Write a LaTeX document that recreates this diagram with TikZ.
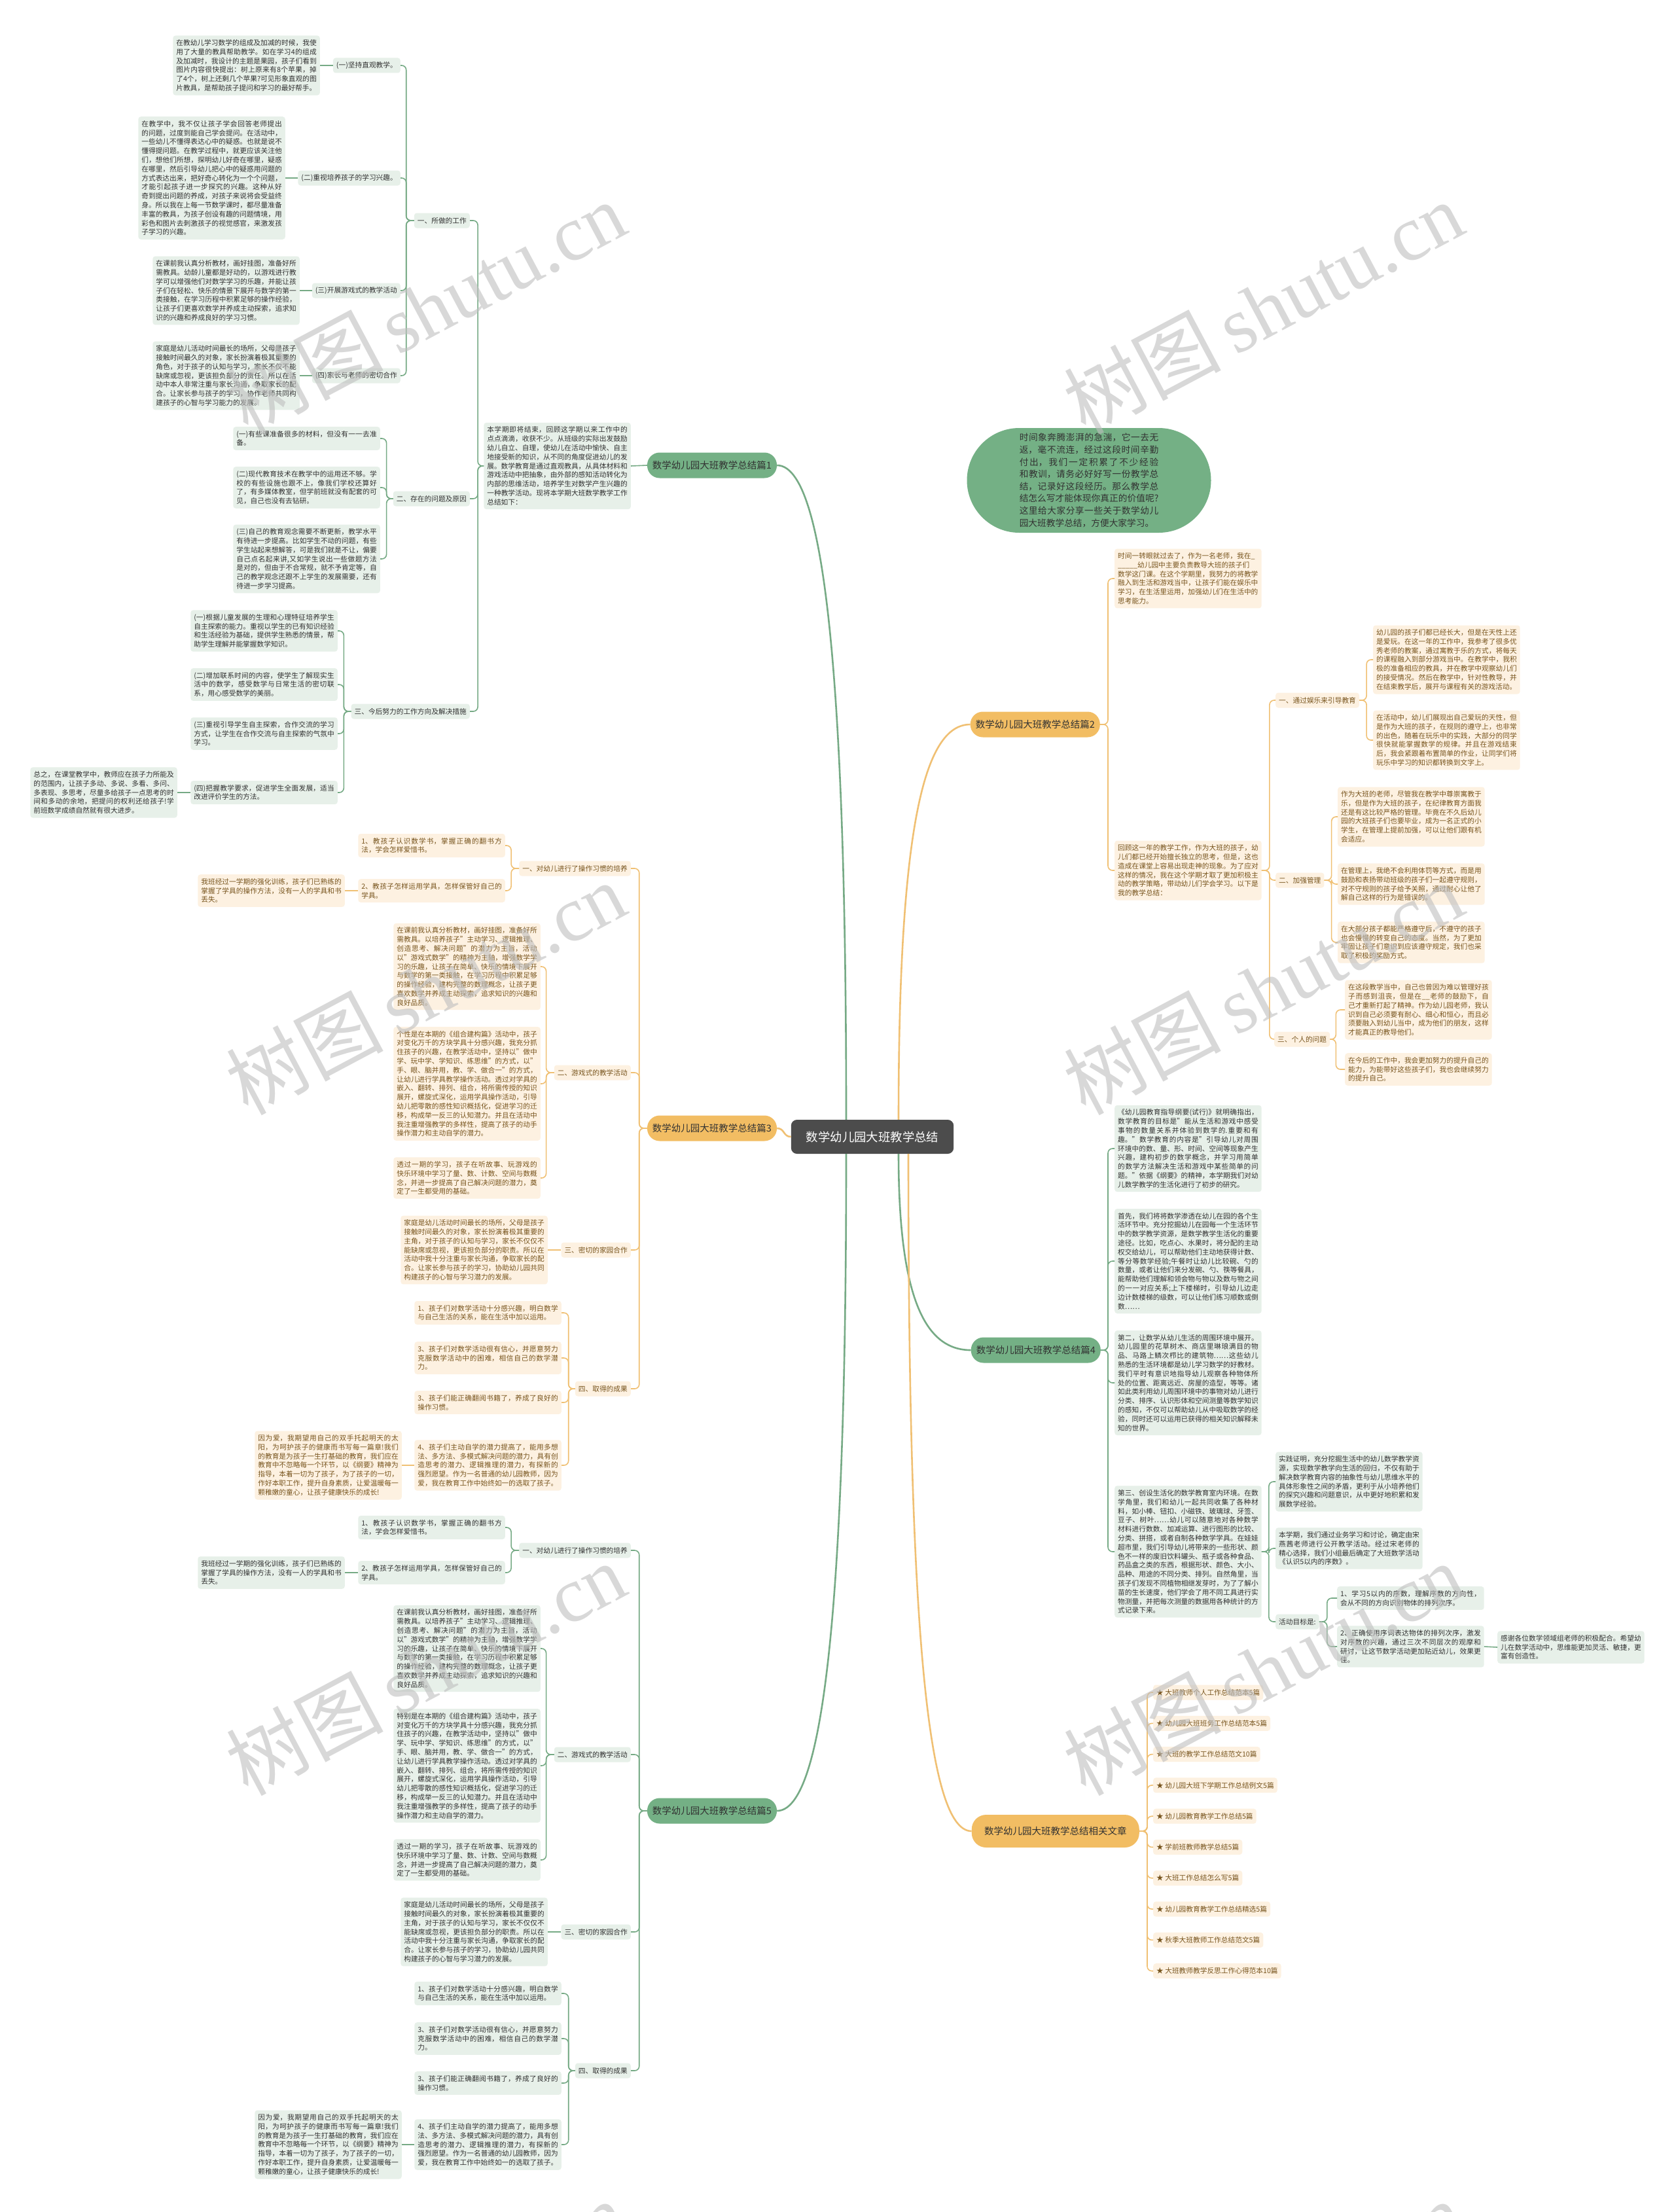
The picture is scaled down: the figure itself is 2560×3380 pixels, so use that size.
\documentclass[tikz,border=0pt]{standalone}
\usepackage{fontspec}
\setmainfont{Noto Sans CJK SC}
\newfontfamily\markfont{Liberation Serif}
\XeTeXlinebreaklocale "zh"
\XeTeXlinebreakskip=0pt plus 1pt
\tolerance=5000
\hbadness=10000
\definecolor{gline}{RGB}{118,170,133}
\definecolor{gleaf}{RGB}{231,240,233}
\definecolor{gmain}{RGB}{116,176,133}
\definecolor{gink}{RGB}{50,50,50}
\definecolor{oline}{RGB}{240,192,115}
\definecolor{oleaf}{RGB}{253,241,225}
\definecolor{omain}{RGB}{242,189,99}
\definecolor{oink}{RGB}{120,85,30}
\definecolor{hubc}{RGB}{76,76,76}
\definecolor{markc}{RGB}{190,190,190}
\newcommand\leaffont{\fontsize{10.7}{13.8}\selectfont}

\begin{document}
\begin{tikzpicture}[x=1pt, y=-1pt,
    gtxt/.style={fill=gleaf, text=gink, rounded corners=4pt, inner xsep=5pt, inner ysep=6pt, text width=214.5pt, align=justify, font=\leaffont},
    otxt/.style={gtxt, fill=oleaf, text=oink},
    gtag/.style={fill=gleaf, text=gink, rounded corners=4pt, inner xsep=5pt, inner ysep=0pt, minimum height=23pt, font=\leaffont},
    otag/.style={gtag, fill=oleaf, text=oink},
    gbranch/.style={fill=gmain, text=gink, rounded corners=19pt, minimum height=39pt, inner xsep=8pt, font=\fontsize{14.5}{18}\selectfont},
    obranch/.style={gbranch, fill=omain},
    hub/.style={fill=hubc, text=white, rounded corners=9pt, minimum height=52pt, inner xsep=23pt, font=\fontsize{18.4}{22}\selectfont},
    intro/.style={fill=gmain, text=gink, rounded corners=80pt, minimum width=373pt, minimum height=160pt, text width=212.5pt, align=justify, font=\fontsize{13.7}{18.6}\selectfont},
    glink/.style={draw=gline, line width=1.6pt, rounded corners=7pt},
    olink/.style={glink, draw=oline},
    gtrunk/.style={draw=gline, line width=2.6pt},
    otrunk/.style={gtrunk, draw=oline},
    wmark/.style={text=markc, text opacity=0.6, rotate=28, font=\fontsize{120}{120}\selectfont}]

    \fill[white] (0,0) rectangle (2560,3380);
    \useasboundingbox (0,0) rectangle (2560,3380);

    % Centre and intro
    \node[hub] (hub) at (1333,1737) {数学幼儿园大班教学总结};
    \node[intro] (intro) at (1664,734) {时间象奔腾澎湃的急湍，它一去无返，毫不流连，经过这段时间辛勤付出，我们一定积累了不少经验和教训，请务必好好写一份教学总结，记录好这段经历。那么教学总结怎么写才能体现你真正的价值呢?这里给大家分享一些关于数学幼儿园大班教学总结，方便大家学习。};

    % Main branches
    \node[gbranch] (b1) at (1088,711) {数学幼儿园大班教学总结篇1};
    \node[obranch, anchor=east] (b2) at (1681,1107) {数学幼儿园大班教学总结篇2};
    \node[obranch] (b3) at (1088,1724) {数学幼儿园大班教学总结篇3};
    \node[gbranch, anchor=east] (b4) at (1682,2063) {数学幼儿园大班教学总结篇4};
    \node[gbranch] (b5) at (1088,2767) {数学幼儿园大班教学总结篇5};
    \node[obranch, anchor=east, minimum height=50pt, minimum width=256pt, rounded corners=22pt] (b6) at (1741,2798) {数学幼儿园大班教学总结相关文章};

    \draw[gtrunk] ([xshift=-40pt]hub.north) .. controls +(0,-700) and +(70,0) .. (b1.east);
    \draw[otrunk] ([xshift=40pt]hub.north) .. controls +(0,-450) and +(-70,0) .. (b2.west);
    \draw[otrunk] (hub.west) .. controls +(-12,0) and +(12,0) .. (b3.east);
    \draw[gtrunk] ([xshift=40pt]hub.south) .. controls +(0,220) and +(-70,0) .. (b4.west);
    \draw[gtrunk] ([xshift=-40pt]hub.south) .. controls +(0,700) and +(70,0) .. (b5.east);
    \draw[otrunk] ([xshift=55pt]hub.south) .. controls +(0,700) and +(-70,0) .. (b6.west);

    % Branch 1
    \node[gtxt, anchor=east] (b1s) at (964,712) {本学期即将结束，回顾这学期以来工作中的点点滴滴，收获不少。从班级的实际出发鼓励幼儿自立、自理，使幼儿在活动中愉快、自主地接受新的知识，从不同的角度促进幼儿的发展。数学教育是通过直观教具，从具体材料和游戏活动中把抽象，由外部的感知活动转化为内部的思维活动，培养学生对数学产生兴趣的一种教学活动。现将本学期大班数学教学工作总结如下：};
    \node[gtag, anchor=east] (b1a) at (718,337) {一、所做的工作};
    \node[gtag, anchor=east] (b1b) at (718,762) {二、存在的问题及原因};
    \node[gtag, anchor=east] (b1c) at (718,1087) {三、今后努力的工作方向及解决措施};
    \draw[glink] (b1.west) -- (b1s.east);
    \draw[glink] (b1s.west) -- ++(-9,0) |- (b1a.east);
    \draw[glink] (b1s.west) -- ++(-9,0) |- (b1b.east);
    \draw[glink] (b1s.west) -- ++(-9,0) |- (b1c.east);

    \node[gtag, anchor=east] (b1a1) at (612,100) {(一)坚持直观教学。};
    \node[gtag, anchor=east] (b1a2) at (612,272) {(二)重视培养孩子的学习兴趣。};
    \node[gtag, anchor=east] (b1a3) at (612,444) {(三)开展游戏式的教学活动};
    \node[gtag, anchor=east] (b1a4) at (612,574) {(四)家长与老师的密切合作};
    \foreach \k in {1,...,4} \draw[glink] (b1a.west) -- ++(-12,0) |- (b1a\k.east);
    \node[gtxt, anchor=east] (b1a1t) at (489,100) {在教幼儿学习数学的组成及加减的时候，我使用了大量的教具帮助教学。如在学习4的组成及加减时，我设计的主题是果园，孩子们看到图片内容很快提出：树上原来有8个苹果，掉了4个，树上还剩几个苹果?可见形象直观的图片教具，是帮助孩子提问和学习的最好帮手。};
    \node[gtxt, anchor=east] (b1a2t) at (436,272) {在教学中，我不仅让孩子学会回答老师提出的问题，过度到能自己学会提问。在活动中，一些幼儿不懂得表达心中的疑惑。也就是说不懂得提问题。在教学过程中，就更应该关注他们，想他们所想，探明幼儿好奇在哪里，疑惑在哪里，然后引导幼儿把心中的疑惑用问题的方式表达出来，把好奇心转化为一个个问题，才能引起孩子进一步探究的兴趣。这种从好奇到提出问题的养成，对孩子来说将会受益终身。所以我在上每一节数学课时，都尽量准备丰富的教具，为孩子创设有趣的问题情境，用彩色和图片去刺激孩子的视觉感官，来激发孩子学习的兴趣。};
    \node[gtxt, anchor=east] (b1a3t) at (458,444) {在课前我认真分析教材，画好挂图，准备好所需教具。幼龄儿童都是好动的，以游戏进行教学可以增强他们对数学学习的乐趣，并能让孩子们在轻松、快乐的情景下展开与数学的第一类接触，在学习历程中积累足够的操作经验，让孩子们更喜欢数学并养成主动探索，追求知识的兴趣和养成良好的学习习惯。};
    \node[gtxt, anchor=east] (b1a4t) at (458,574) {家庭是幼儿活动时间最长的场所，父母是孩子接触时间最久的对象，家长扮演着极其重要的角色，对于孩子的认知与学习，家长不仅不能缺席或忽视，更该担负部分的责任。所以在活动中本人非常注重与家长沟通，争取家长的配合。让家长参与孩子的学习，协作老师共同构建孩子的心智与学习能力的发展。};
    \foreach \k in {1,...,4} \draw[glink] (b1a\k.west) -- (b1a\k t.east);

    \node[gtxt, anchor=east] (b1b1) at (581,670) {(一)有些课准备很多的材料，但没有一一去准备。};
    \node[gtxt, anchor=east] (b1b2) at (581,745) {(二)现代教育技术在教学中的运用还不够。学校的有些设施也跟不上，像我们学校还算好了，有多媒体教室，但学前班就没有配套的可见，自己也没有去钻研。};
    \node[gtxt, anchor=east] (b1b3) at (581,854) {(三)自己的教育观念需要不断更新，教学水平有待进一步提高。比如学生不动的问题，有些学生站起来想解答，可是我们就是不让，偏要自己点名起来讲,又如学生说出一些做题方法是对的，但由于不合常规，就不予肯定等，自己的教学观念还跟不上学生的发展需要，还有待进一步学习提高。};
    \foreach \k in {1,2,3} \draw[glink] (b1b.west) -- ++(-10,0) |- (b1b\k.east);

    \node[gtxt, anchor=east] (b1c1) at (516,964) {(一)根据儿童发展的生理和心理特征培养学生自主探索的能力。重视以学生的已有知识经验和生活经验为基础，提供学生熟悉的情景，帮助学生理解并能掌握数学知识。};
    \node[gtxt, anchor=east] (b1c2) at (516,1046) {(二)增加联系时间的内容，使学生了解现实生活中的数学，感受数学与日常生活的密切联系，用心感受数学的美丽。};
    \node[gtxt, anchor=east] (b1c3) at (516,1121) {(三)重视引导学生自主探索，合作交流的学习方式，让学生在合作交流与自主探索的气氛中学习。};
    \node[gtxt, anchor=east] (b1c4) at (516,1211) {(四)把握教学要求，促进学生全面发展，适当改进评价学生的方法。};
    \foreach \k in {1,...,4} \draw[glink] (b1c.west) -- ++(-11,0) |- (b1c\k.east);
    \node[gtxt, anchor=east] (b1c4t) at (271,1211) {总之，在课堂教学中，教师应在孩子力所能及的范围内，让孩子多动、多说、多看、多问、多表现、多思考，尽量多给孩子一点思考的时间和多动的余地，把提问的权利还给孩子!学前班数学成绩自然就有很大进步。};
    \draw[glink] (b1c4.west) -- (b1c4t.east);

    % Branch 3
    \node[otag, anchor=east] (b3a) at (964,1327) {一、对幼儿进行了操作习惯的培养};
    \node[otag, anchor=east] (b3b) at (964,1639) {二、游戏式的教学活动};
    \node[otag, anchor=east] (b3c) at (964,1910) {三、密切的家园合作};
    \node[otag, anchor=east] (b3d) at (964,2122) {四、取得的成果};
    \foreach \k in {a,b,c,d} \draw[olink] (b3.west) -- ++(-12,0) |- (b3\k.east);
    \node[otxt, anchor=east] (b3a1) at (772,1292) {1、教孩子认识数学书，掌握正确的翻书方法，学会怎样爱惜书。};
    \node[otxt, anchor=east] (b3a2) at (772,1361) {2、教孩子怎样运用学具，怎样保管好自己的学具。};
    \node[otxt, anchor=east] (b3a2t) at (527,1361) {我班经过一学期的强化训练，孩子们已熟练的掌握了学具的操作方法，没有一人的学具和书丢失。};
    \draw[olink] (b3a.west) -- ++(-12,0) |- (b3a1.east);
    \draw[olink] (b3a.west) -- ++(-12,0) |- (b3a2.east);
    \draw[olink] (b3a2.west) -- (b3a2t.east);
    \node[otxt, anchor=east] (b3b1) at (826,1477) {在课前我认真分析教材，画好挂图，准备好所需教具。以培养孩子"主动学习、逻辑推理、创造思考、解决问题"的潜力为主旨，活动以"游戏式数学"的精神为主轴，增强数学学习的乐趣，让孩子在简单、快乐的情境下展开与数学的第一类接触，在学习历程中积累足够的操作经验，建构完整的数理概念，让孩子更喜欢数学并养成主动探索，追求知识的兴趣和良好品质。};
    \node[otxt, anchor=east] (b3b2) at (826,1656) {个性是在本期的《组合建构篇》活动中，孩子对变化万千的方块学具十分感兴趣，我充分抓住孩子的兴趣，在教学活动中，坚持以"做中学、玩中学、学知识、练思维"的方式，以"手、眼、脑并用，教、学、做合一"的方式，让幼儿进行学具教学操作活动。透过对学具的嵌入、翻转、排列、组合，将所需传授的知识展开，螺旋式深化，运用学具操作活动，引导幼儿把零散的感性知识概括化，促进学习的迁移，构成举一反三的认知潜力。并且在活动中我注重增强教学的多样性，提高了孩子的动手操作潜力和主动自学的潜力。};
    \node[otxt, anchor=east] (b3b3) at (826,1800) {透过一期的学习，孩子在听故事、玩游戏的快乐环境中学习了量、数、计数、空间与数概念，并进一步提高了自己解决问题的潜力，奠定了一生都受用的基础。};
    \foreach \k in {1,2,3} \draw[olink] (b3b.west) -- ++(-12,0) |- (b3b\k.east);
    \node[otxt, anchor=east] (b3c1) at (837,1910) {家庭是幼儿活动时间最长的场所，父母是孩子接触时间最久的对象，家长扮演着极其重要的主角，对于孩子的认知与学习，家长不仅仅不能缺席或忽视，更该担负部分的职责。所以在活动中我十分注重与家长沟通，争取家长的配合。让家长参与孩子的学习，协助幼儿园共同构建孩子的心智与学习潜力的发展。};
    \draw[olink] (b3c.west) -- (b3c1.east);
    \node[otxt, anchor=east] (b3d1) at (858,2006) {1、孩子们对数学活动十分感兴趣，明白数学与自己生活的关系，能在生活中加以运用。};
    \node[otxt, anchor=east] (b3d2) at (858,2075) {3、孩子们对数学活动很有信心，并愿意努力克服数学活动中的困难，相信自己的数学潜力。};
    \node[otxt, anchor=east] (b3d3) at (858,2143) {3、孩子们能正确翻阅书籍了，养成了良好的操作习惯。};
    \node[otxt, anchor=east] (b3d4) at (858,2239) {4、孩子们主动自学的潜力提高了，能用多想法、多方法、多模式解决问题的潜力，具有创造思考的潜力、逻辑推理的潜力，有探新的强烈愿望。作为一名普通的幼儿园教师，因为爱，我在教育工作中始终如一的选取了孩子。};
    \foreach \k in {1,...,4} \draw[olink] (b3d.west) -- ++(-10,0) |- (b3d\k.east);
    \node[otxt, anchor=east] (b3d4t) at (614,2239) {因为爱，我期望用自己的双手托起明天的太阳，为呵护孩子的健康而书写每一篇章!我们的教育是为孩子一生打基础的教育，我们应在教育中不忽略每一个环节，以《纲要》精神为指导，本着一切为了孩子，为了孩子的一切，作好本职工作，提升自身素质，让爱温暖每一颗稚嫩的童心，让孩子健康快乐的成长!};
    \draw[olink] (b3d4.west) -- (b3d4t.east);

    % Branch 5
    \node[gtag, anchor=east] (b5a) at (964,2369) {一、对幼儿进行了操作习惯的培养};
    \node[gtag, anchor=east] (b5b) at (964,2681) {二、游戏式的教学活动};
    \node[gtag, anchor=east] (b5c) at (964,2952) {三、密切的家园合作};
    \node[gtag, anchor=east] (b5d) at (964,3164) {四、取得的成果};
    \foreach \k in {a,b,c,d} \draw[glink] (b5.west) -- ++(-12,0) |- (b5\k.east);
    \node[gtxt, anchor=east] (b5a1) at (772,2334) {1、教孩子认识数学书，掌握正确的翻书方法，学会怎样爱惜书。};
    \node[gtxt, anchor=east] (b5a2) at (772,2403) {2、教孩子怎样运用学具，怎样保管好自己的学具。};
    \node[gtxt, anchor=east] (b5a2t) at (527,2403) {我班经过一学期的强化训练，孩子们已熟练的掌握了学具的操作方法，没有一人的学具和书丢失。};
    \draw[glink] (b5a.west) -- ++(-12,0) |- (b5a1.east);
    \draw[glink] (b5a.west) -- ++(-12,0) |- (b5a2.east);
    \draw[glink] (b5a2.west) -- (b5a2t.east);
    \node[gtxt, anchor=east] (b5b1) at (826,2519) {在课前我认真分析教材，画好挂图，准备好所需教具。以培养孩子"主动学习、逻辑推理、创造思考、解决问题"的潜力为主旨，活动以"游戏式数学"的精神为主轴，增强数学学习的乐趣，让孩子在简单、快乐的情境下展开与数学的第一类接触，在学习历程中积累足够的操作经验，建构完整的数理概念，让孩子更喜欢数学并养成主动探索，追求知识的兴趣和良好品质。};
    \node[gtxt, anchor=east] (b5b2) at (826,2698) {特别是在本期的《组合建构篇》活动中，孩子对变化万千的方块学具十分感兴趣，我充分抓住孩子的兴趣，在教学活动中，坚持以"做中学、玩中学、学知识、练思维"的方式，以"手、眼、脑并用，教、学、做合一"的方式，让幼儿进行学具教学操作活动。透过对学具的嵌入、翻转、排列、组合，将所需传授的知识展开，螺旋式深化，运用学具操作活动，引导幼儿把零散的感性知识概括化，促进学习的迁移，构成举一反三的认知潜力。并且在活动中我注重增强教学的多样性，提高了孩子的动手操作潜力和主动自学的潜力。};
    \node[gtxt, anchor=east] (b5b3) at (826,2842) {透过一期的学习，孩子在听故事、玩游戏的快乐环境中学习了量、数、计数、空间与数概念，并进一步提高了自己解决问题的潜力，奠定了一生都受用的基础。};
    \foreach \k in {1,2,3} \draw[glink] (b5b.west) -- ++(-12,0) |- (b5b\k.east);
    \node[gtxt, anchor=east] (b5c1) at (837,2952) {家庭是幼儿活动时间最长的场所，父母是孩子接触时间最久的对象，家长扮演着极其重要的主角，对于孩子的认知与学习，家长不仅仅不能缺席或忽视，更该担负部分的职责。所以在活动中我十分注重与家长沟通，争取家长的配合。让家长参与孩子的学习，协助幼儿园共同构建孩子的心智与学习潜力的发展。};
    \draw[glink] (b5c.west) -- (b5c1.east);
    \node[gtxt, anchor=east] (b5d1) at (858,3046) {1、孩子们对数学活动十分感兴趣，明白数学与自己生活的关系，能在生活中加以运用。};
    \node[gtxt, anchor=east] (b5d2) at (858,3115) {3、孩子们对数学活动很有信心，并愿意努力克服数学活动中的困难，相信自己的数学潜力。};
    \node[gtxt, anchor=east] (b5d3) at (858,3183) {3、孩子们能正确翻阅书籍了，养成了良好的操作习惯。};
    \node[gtxt, anchor=east] (b5d4) at (858,3277) {4、孩子们主动自学的潜力提高了，能用多想法、多方法、多模式解决问题的潜力，具有创造思考的潜力、逻辑推理的潜力，有探新的强烈愿望。作为一名普通的幼儿园教师，因为爱，我在教育工作中始终如一的选取了孩子。};
    \foreach \k in {1,...,4} \draw[glink] (b5d.west) -- ++(-10,0) |- (b5d\k.east);
    \node[gtxt, anchor=east] (b5d4t) at (614,3277) {因为爱，我期望用自己的双手托起明天的太阳，为呵护孩子的健康而书写每一篇章!我们的教育是为孩子一生打基础的教育，我们应在教育中不忽略每一个环节，以《纲要》精神为指导，本着一切为了孩子，为了孩子的一切，作好本职工作，提升自身素质，让爱温暖每一颗稚嫩的童心，让孩子健康快乐的成长!};
    \draw[glink] (b5d4.west) -- (b5d4t.east);

    % Branch 2
    \node[otxt, anchor=west, align=left] (b2i) at (1703,884) {时间一转眼就过去了，作为一名老师，我在\_\\\_\_\_\_\_幼儿园中主要负责教导大班的孩子们\\数学这门课。在这个学期里，我努力的将教学融入到生活和游戏当中，让孩子们能在娱乐中学习，在生活里运用，加强幼儿们在生活中的思考能力。};
    \node[otxt, anchor=west] (b2r) at (1703,1330) {回顾这一年的教学工作，作为大班的孩子，幼儿们都已经开始擅长独立的思考，但是，这也造成在课堂上容易出现走神的现象。为了应对这样的情况，我在这个学期才取了更加积极主动的教学策略，带动幼儿们学会学习。以下是我的教学总结：};
    \draw[olink] (b2.east) -- ++(12,0) |- (b2i.west);
    \draw[olink] (b2.east) -- ++(12,0) |- (b2r.west);
    \node[otag, anchor=west] (b2r1) at (1949,1070) {一、通过娱乐来引导教育};
    \node[otag, anchor=west] (b2r2) at (1949,1345) {二、加强管理};
    \node[otag, anchor=west] (b2r3) at (1947,1588) {三、个人的问题};
    \foreach \k in {1,2,3} \draw[olink] (b2r.east) -- ++(12,0) |- (b2r\k.west);
    \node[otxt, anchor=west] (b2r1a) at (2098,1008) {幼儿园的孩子们都已经长大，但是在天性上还是爱玩。在这一年的工作中，我参考了很多优秀老师的教案，通过寓教于乐的方式，将每天的课程融入到部分游戏当中。在教学中，我积极的准备相应的教具，并在教学中观察幼儿们的接受情况。然后在教学中，针对性教导，并在结束教学后，展开与课程有关的游戏活动。};
    \node[otxt, anchor=west] (b2r1b) at (2098,1131) {在活动中，幼儿们展现出自己爱玩的天性，但是作为大班的孩子，在规则的遵守上，也非常的出色，随着在玩乐中的实践，大部分的同学很快就能掌握数学的规律。并且在游戏结束后，我会紧跟着布置简单的作业，让同学们将玩乐中学习的知识都转换到文字上。};
    \foreach \k in {a,b} \draw[olink] (b2r1.east) -- ++(11,0) |- (b2r1\k.west);
    \node[otxt, anchor=west] (b2r2a) at (2044,1248) {作为大班的老师，尽管我在教学中尊崇寓教于乐，但是作为大班的孩子，在纪律教育方面我还是有这比较严格的管理。毕竟在不久后幼儿园的大班孩子们也要毕业，成为一名正式的小学生，在管理上提前加强，可以让他们跟有机会适应。};
    \node[otxt, anchor=west] (b2r2b) at (2044,1351) {在管理上，我绝不会利用体罚等方式，而是用鼓励和表扬带动班级的孩子们一起遵守规则，对不守规则的孩子给予关照，通过耐心让他了解自己这样的行为是错误的。};
    \node[otxt, anchor=west] (b2r2c) at (2044,1440) {在大部分孩子都能严格遵守后，不遵守的孩子也会慢慢的转变自己的态度。当然，为了更加牢固让孩子们意识到应该遵守规定，我们也采取了积极的奖励方式。};
    \foreach \k in {a,b,c} \draw[olink] (b2r2.east) -- ++(11,0) |- (b2r2\k.west);
    \node[otxt, anchor=west] (b2r3a) at (2055,1543) {在这段教学当中，自己也曾因为难以管理好孩子而感到沮丧，但是在\_\_老师的鼓励下，自己才重新打起了精神。作为幼儿园老师，我认识到自己必须要有耐心、细心和恒心，而且必须要融入到幼儿当中，成为他们的朋友，这样才能真正的教导他们。};
    \node[otxt, anchor=west] (b2r3b) at (2055,1634) {在今后的工作中，我会更加努力的提升自己的能力，为能带好这些孩子们，我也会继续努力的提升自己。};
    \foreach \k in {a,b} \draw[olink] (b2r3.east) -- ++(9,0) |- (b2r3\k.west);

    % Branch 4
    \node[gtxt, anchor=west] (b4a) at (1703,1755) {《幼儿园教育指导纲要(试行)》就明确指出，数学教育的目标是"能从生活和游戏中感受事物的数量关系并体验到数学的.重要和有趣。"数学教育的内容是"引导幼儿对周围环境中的数、量、形、时间、空间等现象产生兴趣，建构初步的数学概念，并学习用简单的数学方法解决生活和游戏中某些简单的问题。"依据《纲要》的精神，本学期我们对幼儿数学教学的生活化进行了初步的研究。};
    \node[gtxt, anchor=west] (b4b) at (1703,1927) {首先，我们将将数学渗透在幼儿在园的各个生活环节中。充分挖掘幼儿在园每一个生活环节中的数学教学资源，是数学教学生活化的重要途径。比如，吃点心、水果时，将分配的主动权交给幼儿，可以帮助他们主动地获得计数、等分等数学经验;午餐时让幼儿比较碗、勺的数量，或者让他们来分发碗、勺、筷等餐具，能帮助他们理解和领会物与物以及数与物之间的一一对应关系;上下楼梯时，引导幼儿边走边计数楼梯的级数，可以让他们练习顺数或倒数……};
    \node[gtxt, anchor=west] (b4c) at (1703,2113) {第二，让数学从幼儿生活的周围环境中展开。幼儿园里的花草树木、商店里琳琅满目的物品、马路上鳞次栉比的建筑物……这些幼儿熟悉的生活环境都是幼儿学习数学的好教材。我们平时有意识地指导幼儿观察各种物体所处的位置、距离远近、房屋的造型，等等。诸如此类利用幼儿周围环境中的事物对幼儿进行分类、排序、认识形体和空间测量等数学知识的感知，不仅可以帮助幼儿从中吸取数学的经验，同时还可以运用已获得的相关知识解释未知的世界。};
    \node[gtxt, anchor=west] (b4d) at (1703,2371) {第三、创设生活化的数学教育室内环境。在数学角里，我们和幼儿一起共同收集了各种材料，如小棒、钮扣、小磁铁、玻璃球、牙签、豆子、树叶……幼儿可以随意地对各种数学材料进行数数、加减运算、进行图形的比较、分类、拼搭，或者自制各种数学学具。在娃娃超市里，我们引导幼儿将带来的一些形状、颜色不一样的废旧饮料罐头、瓶子或各种食品、药品盒之类的东西，根据形状、颜色、大小、品种、用途的不同分类、排列。自然角里，当孩子们发现不同植物相继发芽时，为了了解小苗的生长速度，他们学会了用不同工具进行实物测量，并把每次测量的数据用各种统计的方式记录下来。};
    \foreach \k in {a,b,c,d} \draw[glink] (b4.east) -- ++(11,0) |- (b4\k.west);
    \node[gtxt, anchor=west] (b4d1) at (1949,2264) {实践证明，充分挖掘生活中的幼儿数学教学资源，实现数学教学向生活的回归，不仅有助于解决数学教育内容的抽象性与幼儿思维水平的具体形象性之间的矛盾，更利于从小培养他们的探究兴趣和问题意识，从中更好地积累和发展数学经验。};
    \node[gtxt, anchor=west] (b4d2) at (1949,2366) {本学期，我们通过业务学习和讨论，确定由宋燕茜老师进行公开教学活动。经过宋老师的精心选择，我们小组最后确定了大班数学活动《认识5以内的序数》。};
    \node[gtag, anchor=west] (b4d3) at (1949,2478) {活动目标是:};
    \foreach \k in {1,2,3} \draw[glink] (b4d.east) -- ++(11,0) |- (b4d\k.west);
    \node[gtxt, anchor=west] (b4e1) at (2043,2442) {1、学习5以内的序数，理解序数的方向性，会从不同的方向识别物体的排列次序。};
    \node[gtxt, anchor=west] (b4e2) at (2043,2516) {2、正确使用序词表达物体的排列次序，激发对序数的兴趣，通过三次不同层次的观摩和研讨，让这节数学活动更加贴近幼儿，效果更佳。};
    \foreach \k in {1,2} \draw[glink] (b4d3.east) -- ++(12,0) |- (b4e\k.west);
    \node[gtxt, anchor=west] (b4e2t) at (2288,2517) {感谢各位数学领域组老师的积极配合。希望幼儿在数学活动中，思维能更加灵活、敏捷，更富有创造性。};
    \draw[glink] (b4e2.east) -- (b4e2t.west);

    % Branch 6: related articles
    \foreach \i/\t in {1/大班教师个人工作总结范本5篇, 2/幼儿园大班班务工作总结范本5篇, 3/大班的教学工作总结范文10篇, 4/幼儿园大班下学期工作总结例文5篇, 5/幼儿园教育教学工作总结5篇, 6/学前班教师教学总结5篇, 7/大班工作总结怎么写5篇, 8/幼儿园教育教学工作总结精选5篇, 9/秋季大班教师工作总结范文5篇, 10/大班教师教学反思工作心得范本10篇} {
        \node[otag, anchor=west] (b6\i) at (1762,{2538.7+47.3*\i}) {★ \t};
        \draw[olink] (b6.east) -- ++(12,0) |- (b6\i.west);
    }

    % Watermarks
    \foreach \wx/\wy [count=\w] in {650/470, 1930/470, 650/1510, 1930/1510, 650/2550, 1930/2550, 650/3525, 1930/3525}
        \node[wmark] (mark\w) at (\wx,\wy) {树图\,{\markfont shutu.cn}};
\end{tikzpicture}
\end{document}
